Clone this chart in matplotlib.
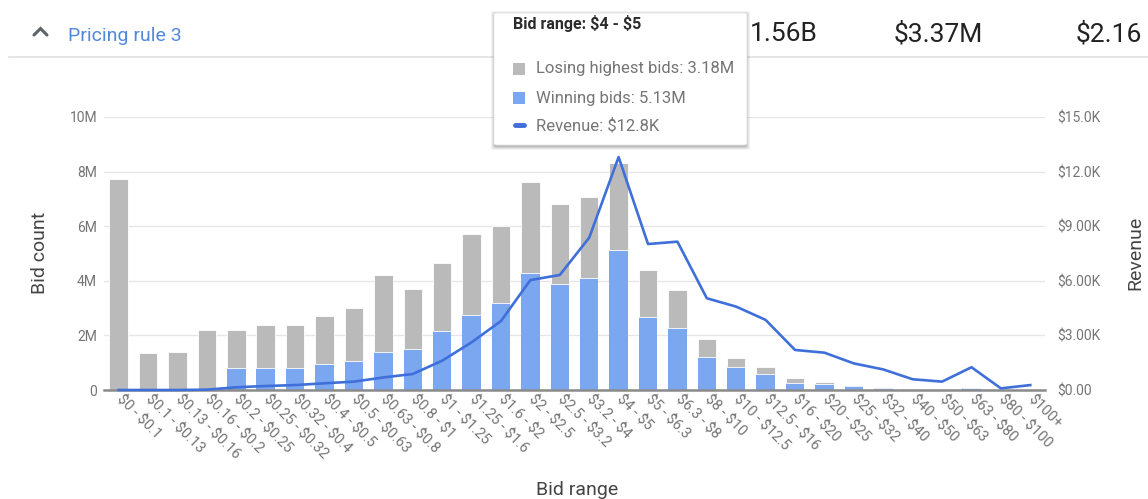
import matplotlib
matplotlib.use("Agg")
import matplotlib.pyplot as plt
from matplotlib.patches import FancyBboxPatch, Rectangle
from matplotlib.lines import Line2D

plt.rcParams['font.family'] = ['Roboto', 'DejaVu Sans']

W, H = 1148, 499

# ---- data ----
bid_ranges = [
    '$0 - $0.1', '$0.1 - $0.13', '$0.13 - $0.16', '$0.16 - $0.2', '$0.2 - $0.25',
    '$0.25 - $0.32', '$0.32 - $0.4', '$0.4 - $0.5', '$0.5 - $0.63', '$0.63 - $0.8',
    '$0.8 - $1', '$1 - $1.25', '$1.25 - $1.6', '$1.6 - $2', '$2 - $2.5',
    '$2.5 - $3.2', '$3.2 - $4', '$4 - $5', '$5 - $6.3', '$6.3 - $8',
    '$8 - $10', '$10 - $12.5', '$12.5 - $16', '$16 - $20', '$20 - $25',
    '$25 - $32', '$32 - $40', '$40 - $50', '$50 - $63', '$63 - $80',
    '$80 - $100', '$100+',
]
# millions of bids
winning_bids = [0.0, 0.0, 0.0, 0.0, 0.82, 0.82, 0.82, 0.94, 1.07, 1.38,
                1.50, 2.16, 2.73, 3.17, 4.30, 3.87, 4.11, 5.13, 2.69, 2.28,
                1.22, 0.83, 0.59, 0.27, 0.22, 0.13, 0.09, 0.04, 0.03, 0.08,
                0.01, 0.0]
losing_bids = [7.73, 1.34, 1.40, 2.20, 1.38, 1.55, 1.55, 1.77, 1.95, 2.83,
               2.19, 2.48, 2.97, 2.83, 3.33, 2.94, 2.97, 3.18, 1.69, 1.38,
               0.66, 0.33, 0.26, 0.16, 0.08, 0.02, 0.01, 0.0, 0.0, 0.0,
               0.0, 0.0]
# thousands of dollars
revenue = [0.0, 0.0, 0.0, 0.02, 0.15, 0.22, 0.27, 0.37, 0.46, 0.69,
           0.88, 1.61, 2.62, 3.79, 6.04, 6.32, 8.37, 12.8, 8.02, 8.15,
           5.04, 4.58, 3.85, 2.20, 2.05, 1.46, 1.13, 0.59, 0.46, 1.25,
           0.09, 0.27]

left_ticks = [0, 2, 4, 6, 8, 10]
left_labels = ['0', '2M', '4M', '6M', '8M', '10M']
right_ticks = [0, 3, 6, 9, 12, 15]
right_labels = ['$0.00', '$3.00K', '$6.00K', '$9.00K', '$12.0K', '$15.0K']

header_stats = ['1.56B', '$3.37M', '$2.16']

GRAY = '#bababa'
BLUE_BAR = '#7ba7f1'
BLUE_LINE = '#3f6fd9'
TICK_COLOR = '#757575'


def esc(s):
    # keep dollar signs literal (no mathtext)
    return s.replace('$', r'\$')


def fx(px):
    return px / W


def fy(py):
    return 1 - py / H


fig = plt.figure(figsize=(W / 100, H / 100), dpi=100)
fig.patch.set_facecolor('white')

ax = fig.add_axes([fx(104), fy(390), fx(1045) - fx(104), (390 - 117) / H])
x = list(range(len(bid_ranges)))

ax.bar(x, winning_bids, width=0.63, color=BLUE_BAR, zorder=2)
ax.bar(x, losing_bids, width=0.63, bottom=winning_bids, color=GRAY,
       edgecolor='white', linewidth=0.6, zorder=2)

ax.set_xlim(-0.5, len(bid_ranges) - 0.5)
ax.set_ylim(0, 10)
ax.set_yticks(left_ticks)
ax.set_yticklabels(left_labels)
ax.set_xticks(x)
ax.set_xticklabels([esc(s) for s in bid_ranges], rotation=-45, ha='left',
                   va='center', rotation_mode='anchor')
ax.tick_params(axis='x', length=0, pad=5, labelsize=10.5, labelcolor=TICK_COLOR)
ax.tick_params(axis='y', length=0, pad=5, labelsize=10, labelcolor=TICK_COLOR)
ax.grid(axis='y', color='#e6e6e6', linewidth=1, zorder=0)
ax.set_axisbelow(True)
for side in ['top', 'right', 'left']:
    ax.spines[side].set_visible(False)
ax.spines['bottom'].set_color('#8a8a8a')
ax.spines['bottom'].set_linewidth(1.8)
ax.spines['bottom'].set_zorder(3)

ax2 = ax.twinx()
ax2.plot(x, revenue, color=BLUE_LINE, linewidth=1.9, zorder=4, clip_on=False)
ax2.set_ylim(0, 15)
ax2.set_yticks(right_ticks)
ax2.set_yticklabels([esc(s) for s in right_labels])
ax2.tick_params(axis='y', length=0, pad=9, labelsize=10, labelcolor=TICK_COLOR)
for side in ['top', 'right', 'left', 'bottom']:
    ax2.spines[side].set_visible(False)

# axis titles
fig.text(fx(40), fy(253), 'Bid count', rotation=90, ha='center', va='center',
         fontsize=14, color='#444444')
fig.text(fx(1135), fy(253), 'Revenue', rotation=90, ha='center', va='center',
         fontsize=14, color='#444444')
fig.text(fx(577), fy(490), 'Bid range', ha='center', va='center',
         fontsize=14, color='#444444')

# header
fig.add_artist(Line2D([fx(9), 1], [fy(57), fy(57)], color='#e0e0e0', linewidth=1.2))
fig.add_artist(Line2D([fx(34), fx(40.5), fx(47)], [fy(35), fy(28.5), fy(35)],
                      color='#5f6368', linewidth=2.2, solid_capstyle='round',
                      solid_joinstyle='miter'))
fig.text(fx(68), fy(36), 'Pricing rule 3', ha='left', va='center',
         fontsize=14, color='#5088dc')
for px, s in zip([750, 894, 1076], header_stats):
    fig.text(fx(px), fy(34), esc(s), ha='left', va='center', fontsize=19,
             color='#222222')

# tooltip with soft shadow
bx0, bx1, by0, by1 = 494, 747, 13, 145
for off, a in [(4, 0.05), (3, 0.06), (2, 0.08), (1, 0.10)]:
    sh = FancyBboxPatch((fx(bx0 - off + 1), fy(by1 + off + 1)),
                        fx(bx1 - bx0 + 2 * off - 2), (by1 - by0 + 2 * off - 1) / H,
                        boxstyle='round,pad=0,rounding_size=0.003',
                        transform=fig.transFigure, facecolor='black',
                        edgecolor='none', alpha=a, zorder=20)
    fig.add_artist(sh)
box = FancyBboxPatch((fx(bx0), fy(by1)), fx(bx1 - bx0), (by1 - by0) / H,
                     boxstyle='round,pad=0,rounding_size=0.003',
                     transform=fig.transFigure, facecolor='white',
                     edgecolor='#e4e4e4', linewidth=0.6, zorder=21)
fig.add_artist(box)

fig.text(fx(513), fy(24), esc('Bid range: $4 - $5'), ha='left', va='center',
         fontsize=11.5, fontweight='bold', color='#2b2b2b', zorder=22)
fig.add_artist(Rectangle((fx(513), fy(75)), fx(12), 12 / H,
                         transform=fig.transFigure, facecolor=GRAY,
                         edgecolor='none', zorder=22))
fig.add_artist(Rectangle((fx(513), fy(104)), fx(12), 12 / H,
                         transform=fig.transFigure, facecolor=BLUE_BAR,
                         edgecolor='none', zorder=22))
fig.add_artist(Line2D([fx(515), fx(524)], [fy(125), fy(125)], color=BLUE_LINE,
                      linewidth=3.5, solid_capstyle='round', zorder=22))
tooltip_lines = ['Losing highest bids: 3.18M', 'Winning bids: 5.13M',
                 'Revenue: $12.8K']
for py, s in zip([69, 98, 126], tooltip_lines):
    fig.text(fx(536), fy(py), esc(s), ha='left', va='center', fontsize=12,
             color='#757575', zorder=22)

fig.savefig('out.png', dpi=100, facecolor='white')
